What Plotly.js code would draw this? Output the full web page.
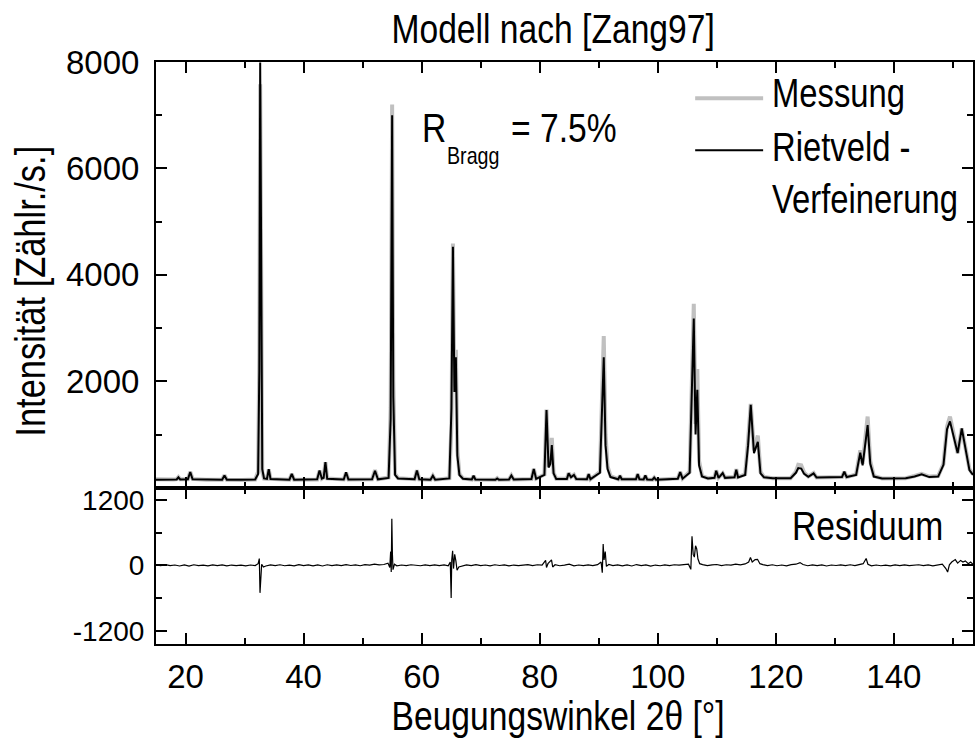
<!DOCTYPE html>
<html>
<head>
<meta charset="utf-8">
<script src="https://cdn.plot.ly/plotly-3.0.1.min.js"></script>
<style>
  html, body { margin: 0; padding: 0; background: #fff; }
  #chart { width: 975px; height: 746px; }
  /* condensed lettering for all free-standing labels and titles */
  #chart .annotation .annotation-text {
    transform-box: fill-box;
    transform-origin: 0 50%;
    transform: scaleX(0.82);
  }
  #chart .annotation[data-index="6"] .annotation-text,
  #chart .annotation[data-index="7"] .annotation-text,
  #chart .annotation[data-index="8"] .annotation-text {
    transform-origin: 50% 50%;
  }
</style>
</head>
<body>
<div id="chart"></div>
<script>
// Diffraction angle grid (2θ, degrees) shared by measurement and Rietveld fit
const twoTheta = [
  15.0, 16.5, 18.0, 18.5, 18.8, 19.1, 20.4, 20.8, 21.2, 23.5, 26.2, 26.6, 27.0, 29.5,
  31.8, 32.3, 32.5, 32.65, 32.8, 33.0, 33.3, 33.8, 34.1, 34.4, 37.6, 38.0, 38.4,
  42.3, 42.7, 43.1, 43.4, 43.7, 44.0, 46.8, 47.2, 47.6, 51.6, 52.1, 52.6,
  54.4, 54.75, 55.0, 55.2, 55.5, 56.0, 58.8, 59.2, 59.6, 61.5, 61.9, 62.3,
  64.7, 65.05, 65.3, 65.55, 65.8, 66.05, 66.4, 67.0, 68.5, 68.8, 69.1, 72.5, 72.8, 73.1,
  74.8, 75.2, 75.6, 78.6, 79.0, 79.4, 80.8, 81.15, 81.5, 81.8, 82.05, 82.35, 82.8,
  84.6, 84.9, 85.3, 85.8, 86.2, 88.0, 88.3, 88.6, 90.2, 90.55, 90.85, 91.15, 91.5, 92.0,
  93.3, 93.6, 93.9, 96.3, 96.6, 96.9, 97.6, 97.9, 98.2, 99.1, 99.4, 99.7,
  103.4, 103.8, 104.2, 105.4, 105.8, 106.1, 106.4, 106.7, 107.0, 107.5, 108.5,
  109.6, 109.9, 110.3, 111.0, 111.4, 113.0, 113.3, 113.6, 114.8, 115.3, 115.75, 116.3,
  116.95, 117.4, 118.0, 119.5, 122.5, 123.4, 123.8, 124.3, 124.8, 125.5, 126.4, 126.9,
  131.2, 131.6, 132.0, 133.6, 134.3, 134.7, 135.55, 136.0, 136.6, 138.0, 142.0, 143.5,
  144.7, 146.0, 147.5, 148.4, 149.0, 149.5, 150.2, 150.8, 151.5, 152.2, 152.8, 153.4
];

// Measured intensity (counts/s)
const messung = [
  160, 150, 155, 160, 200, 160, 160, 300, 165, 150, 150, 235, 150, 145,
  155, 300, 2500, 7580, 2600, 300, 170, 165, 345, 165, 150, 260, 150,
  155, 320, 170, 190, 480, 175, 155, 285, 155, 160, 330, 160,
  190, 1500, 7200, 2000, 260, 180, 160, 330, 160, 150, 225, 150,
  180, 1200, 4590, 1900, 2590, 700, 260, 175, 155, 225, 155, 150, 180, 150,
  155, 230, 155, 165, 350, 170, 250, 1470, 400, 500, 935, 280, 170,
  170, 275, 200, 245, 165, 160, 255, 160, 300, 1500, 2850, 1000, 400, 220,
  160, 225, 160, 160, 256, 160, 155, 230, 155, 150, 190, 150,
  175, 294, 175, 300, 2000, 3457, 1200, 2230, 500, 220, 180,
  190, 324, 190, 270, 190, 200, 350, 200, 250, 900, 1577, 700,
  980, 300, 200, 180, 180, 300, 430, 420, 280, 210, 275, 190,
  200, 300, 200, 250, 700, 450, 1337, 500, 220, 175, 180, 220,
  260, 210, 220, 450, 1150, 1337, 1000, 650, 1114, 700, 350, 250
];

// Rietveld refinement (calculated intensity, counts/s)
const rietveld = [
  150, 150, 150, 155, 195, 155, 158, 295, 160, 150, 150, 230, 150, 150,
  155, 260, 2200, 7990, 3000, 350, 175, 165, 350, 165, 152, 262, 152,
  158, 325, 170, 185, 480, 170, 155, 290, 155, 158, 318, 158,
  185, 1300, 7000, 1700, 240, 175, 160, 325, 160, 150, 225, 150,
  175, 1500, 4530, 1800, 2450, 600, 240, 170, 155, 225, 155, 150, 175, 150,
  155, 230, 155, 165, 350, 165, 240, 1460, 380, 450, 800, 270, 165,
  165, 270, 195, 240, 165, 160, 255, 160, 280, 1300, 2450, 800, 350, 200,
  160, 225, 160, 158, 256, 158, 155, 230, 155, 150, 190, 150,
  170, 294, 170, 280, 1700, 3180, 1000, 1840, 420, 210, 175,
  185, 320, 185, 275, 185, 195, 340, 195, 240, 800, 1560, 650,
  864, 270, 195, 180, 180, 280, 370, 360, 260, 205, 270, 190,
  200, 300, 200, 240, 660, 420, 1176, 450, 210, 175, 180, 210,
  250, 200, 210, 430, 1100, 1247, 950, 650, 1114, 650, 330, 240
];

// Difference curve (Residuum)
const residX = [
  15.0, 15.8, 16.6, 17.4, 18.2, 19.0, 19.8, 20.6, 21.4, 22.2, 23.0, 23.8, 24.6, 25.4,
  26.2, 27.0, 27.8, 28.6, 29.4, 30.2, 31.0, 31.8, 32.3, 32.5, 32.62, 32.75, 32.9, 33.2,
  33.6, 34.4, 35.2, 36.0, 36.8, 37.6, 38.4, 39.2, 40.0, 40.8, 41.6, 42.4, 43.2, 44.0,
  44.8, 45.6, 46.4, 47.2, 48.0, 48.8, 49.6, 50.4, 51.2, 52.0, 52.8, 53.6, 54.3, 54.6,
  54.75, 54.85, 54.95, 55.05, 55.15, 55.4, 55.8, 56.6, 57.4, 58.2, 59.0, 59.8, 60.6,
  61.4, 62.2, 63.0, 63.8, 64.5, 64.85, 65.0, 65.1, 65.25, 65.4, 65.6, 65.8, 66.0, 66.3,
  66.8, 67.6, 68.4, 69.2, 70.0, 70.8, 71.6, 72.4, 73.2, 74.0, 74.8, 75.6, 76.4, 77.2,
  78.0, 78.8, 79.6, 80.4, 81.0, 81.15, 81.4, 82.0, 82.2, 82.6, 83.4, 84.2, 85.0, 85.8,
  86.6, 87.4, 88.2, 89.0, 89.8, 90.4, 90.6, 90.75, 90.9, 91.1, 91.3, 91.7, 92.4, 93.2,
  94.0, 94.8, 95.6, 96.4, 97.2, 98.0, 98.8, 99.6, 100.4, 101.2, 102.0, 102.8, 103.6,
  104.4, 105.2, 105.6, 105.8, 106.0, 106.2, 106.4, 106.6, 106.8, 107.1, 107.6, 108.4,
  109.2, 110.0, 110.8, 111.6, 112.4, 113.2, 114.0, 114.8, 115.4, 115.7, 116.0, 116.5,
  116.9, 117.3, 117.8, 118.6, 119.4, 120.2, 121.0, 121.8, 122.6, 123.4, 124.1, 124.6,
  125.4, 126.2, 127.0, 127.8, 128.6, 129.4, 130.2, 131.0, 131.8, 132.6, 133.4, 134.2,
  134.8, 135.3, 135.6, 136.2, 137.0, 137.8, 138.6, 139.4, 140.2, 141.0, 141.8, 142.6,
  143.4, 144.2, 145.0, 145.8, 146.6, 147.4, 148.2, 148.8, 149.1, 149.4, 149.8, 150.4,
  150.8, 151.3, 151.7, 152.1, 152.6, 153.0, 153.4
];
const residY = [
  10, -8, 12, -5, 6, -12, 8, -15, 10, -6, 4, -10, 7, -4,
  9, -11, 5, -7, 3, -9, 6, -4, 30, 124, -504, -80, 20, -30,
  -12, 8, -6, 10, -8, 5, -10, 12, -4, 7, -9, 6, -12, 10,
  -5, 8, -7, 12, -3, 9, -8, 14, 4, 22, 8, 15, 40, -40,
  250, -124, 850, 200, -80, 20, -10, 6, -5, 10, 3, -8, 7,
  -6, 9, -4, 8, -10, 60, -597, 100, 264, -60, 200, 80, -90, -30,
  -15, 8, -6, 12, -4, 6, -9, 10, -3, 7, -11, 5, -6, 8,
  12, -5, 10, 4, 92, -40, 30, 100, -30, 10, -8, 5, 20, -10,
  6, -4, 9, -7, 12, 60, -135, 388, 100, 250, -20, 15, -5, 8,
  -10, 6, -12, 14, -6, 9, -14, 5, -8, 7, -5, 10, 4,
  12, 20, -74, 530, 200, 150, 357, 300, 120, 30, 12, -6,
  8, 15, -5, 10, 4, 22, 8, 25, 60, 142, 60, 105,
  110, 30, 12, -4, 10, -8, 6, -10, 12, 20, 50, 15,
  -8, 9, -5, 7, -12, 6, -3, 8, -6, 10, -4, 15,
  30, 124, 20, -10, 6, -8, 5, -10, 7, -4, 9, -7,
  4, 10, -6, 8, -9, 5, 20, -60, -124, 10, 60, 105,
  40, 90, 60, 80, 30, 60, 20
];

// Axis tick values and labels
const xMajorTicks = [20, 40, 60, 80, 100, 120, 140];
const xMinorTicks = [30, 50, 70, 90, 110, 130, 150];
const yTopTicks = [2000, 4000, 6000, 8000];
const yTopMinor = [1000, 3000, 5000, 7000];
const yResTicks = [-1200, 0, 1200];
const yResLabels = ['-1200', '0', '1200'];
const yResMinor = [-600, 600];

const FONT = 'Liberation Sans, Arial, Helvetica, sans-serif';

const frame = {
  showline: true, linecolor: '#000', linewidth: 2, mirror: 'ticks',
  ticks: 'inside', ticklen: 11, tickwidth: 2, tickcolor: '#000',
  showgrid: false, zeroline: false,
  tickfont: { family: FONT, size: 33, color: '#000' }
};
const minorTicks = { ticks: 'inside', ticklen: 6, tickwidth: 2, tickcolor: '#000', showgrid: false };

const traces = [
  { x: twoTheta, y: messung, type: 'scatter', mode: 'lines', name: 'Messung',
    line: { color: '#c0c0c0', width: 4 }, xaxis: 'x', yaxis: 'y' },
  { x: twoTheta, y: rietveld, type: 'scatter', mode: 'lines', name: 'Rietveld - Verfeinerung',
    line: { color: '#000', width: 2 }, xaxis: 'x', yaxis: 'y' },
  { x: residX, y: residY, type: 'scatter', mode: 'lines', name: 'Residuum',
    line: { color: '#000', width: 1.2 }, xaxis: 'x2', yaxis: 'y2' }
];

// plot-area edges in page pixels, and helpers to place labels in paper units
const L = 155.5, R = 973, T = 61.7, B = 644.5;
const px = v => (v - L) / (R - L);
const py = v => (B - v) / (B - T);
const split = py(488);

const label = (text, x, y, size, extra) => Object.assign({
  text, xref: 'paper', yref: 'paper', x: px(x), y: py(y),
  xanchor: 'left', yanchor: 'middle', showarrow: false, align: 'left',
  font: { family: FONT, size, color: '#000' }
}, extra || {});

const layout = {
  width: 975, height: 746,
  margin: { l: L, r: 975 - R, t: T, b: 746 - B, pad: 0 },
  paper_bgcolor: '#fff', plot_bgcolor: '#fff',
  showlegend: false,
  font: { family: FONT, color: '#000' },
  xaxis: Object.assign({}, frame, {
    anchor: 'y', domain: [0, 1], range: [15, 153.4],
    tickmode: 'array', tickvals: xMajorTicks, showticklabels: false,
    minor: Object.assign({ tickmode: 'array', tickvals: xMinorTicks }, minorTicks)
  }),
  xaxis2: Object.assign({}, frame, {
    anchor: 'y2', domain: [0, 1], range: [15, 153.4],
    tickmode: 'array', tickvals: xMajorTicks, ticklabelstandoff: 2,
    minor: Object.assign({ tickmode: 'array', tickvals: xMinorTicks }, minorTicks)
  }),
  yaxis: Object.assign({}, frame, {
    anchor: 'x', domain: [split, 1], range: [0, 8000],
    tickmode: 'array', tickvals: yTopTicks, ticklabelstandoff: 8,
    minor: Object.assign({ tickmode: 'array', tickvals: yTopMinor }, minorTicks)
  }),
  yaxis2: Object.assign({}, frame, {
    anchor: 'x2', domain: [0, split], range: [-1440, 1420],
    tickmode: 'array', tickvals: yResTicks, ticktext: yResLabels, ticklabelstandoff: 4,
    tickfont: { family: FONT, size: 28, color: '#000' },
    minor: Object.assign({ tickmode: 'array', tickvals: yResMinor }, minorTicks)
  }),
  shapes: [
    // legend keys
    { type: 'line', xref: 'paper', yref: 'paper', x0: px(695), x1: px(763), y0: py(98), y1: py(98),
      line: { color: '#c0c0c0', width: 4 } },
    { type: 'line', xref: 'paper', yref: 'paper', x0: px(695), x1: px(763), y0: py(150), y1: py(150),
      line: { color: '#000', width: 2 } }
  ],
  annotations: [
    label('Messung', 770, 92.5, 40),
    label('Rietveld -<br>Verfeinerung', 770, 173, 40),
    label('R', 420, 128, 41),
    label('Bragg', 445, 155, 24),
    label('= 7.5%', 509, 128, 41),
    label('Residuum', 790, 526, 41),
    // y-axis title
    label('Intensität [Zählr./s.]', 30, 291, 42, { xanchor: 'center', textangle: -90 }),
    // x-axis title
    label('Beugungswinkel 2θ [°]', 558, 717, 41, { xanchor: 'center' }),
    // chart title
    label('Modell nach [Zang97]', 553, 28.5, 41, { xanchor: 'center' })
  ]
};

Plotly.newPlot('chart', traces, layout, { staticPlot: true, displayModeBar: false });
</script>
</body>
</html>
